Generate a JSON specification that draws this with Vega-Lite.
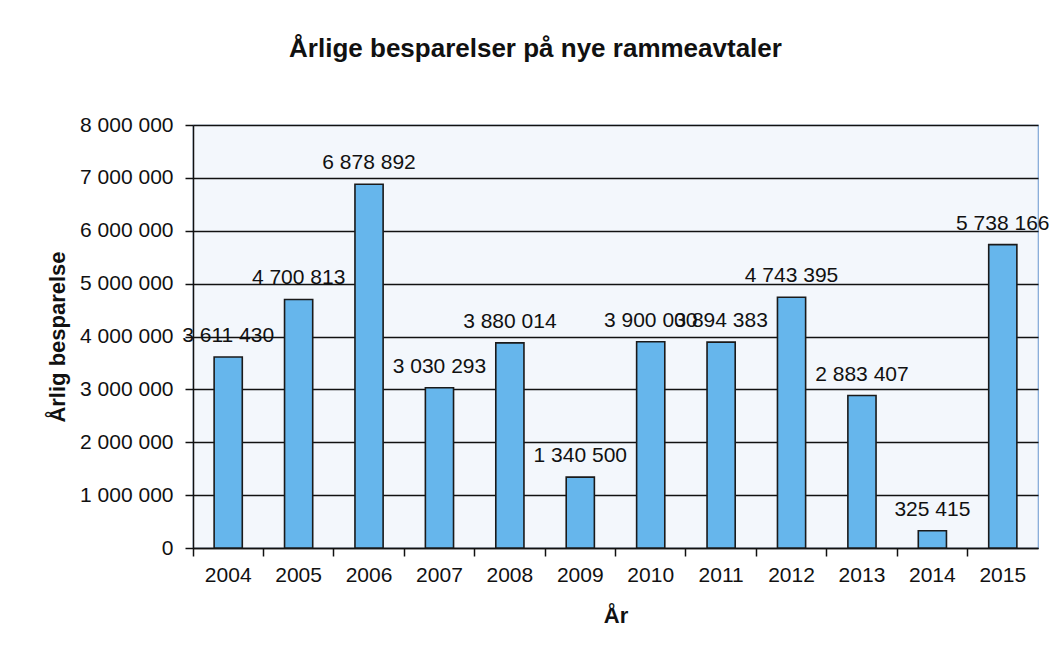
{
  "$schema": "https://vega.github.io/schema/vega-lite/v6.json",
  "autosize": {"type": "none"},
  "width": 845,
  "height": 423,
  "padding": {"left": 193, "top": 125, "right": 11, "bottom": 109},
  "background": "#ffffff",
  "title": {
    "text": "Årlige besparelser på nye rammeavtaler",
    "anchor": "middle",
    "frame": "group",
    "dx": -80,
    "offset": 52,
    "font": "Liberation Sans",
    "fontSize": 26,
    "fontWeight": "bold",
    "color": "#111111"
  },
  "data": {
    "values": [
      {"year": "2004", "value": 3611430},
      {"year": "2005", "value": 4700813},
      {"year": "2006", "value": 6878892},
      {"year": "2007", "value": 3030293},
      {"year": "2008", "value": 3880014},
      {"year": "2009", "value": 1340500},
      {"year": "2010", "value": 3900000},
      {"year": "2011", "value": 3894383},
      {"year": "2012", "value": 4743395},
      {"year": "2013", "value": 2883407},
      {"year": "2014", "value": 325415},
      {"year": "2015", "value": 5738166}
    ]
  },
  "encoding": {
    "x": {
      "field": "year",
      "type": "ordinal",
      "scale": {"paddingInner": 0, "paddingOuter": 0},
      "axis": {
        "title": "År",
        "labelAngle": 0,
        "bandPosition": 0,
        "tickSize": 8,
        "labelPadding": 8,
        "titlePadding": 20,
        "domainColor": "#111111",
        "tickColor": "#111111",
        "domainWidth": 1.5,
        "tickWidth": 1.5,
        "labelFont": "Liberation Sans",
        "labelFontSize": 21,
        "labelColor": "#111111",
        "titleFont": "Liberation Sans",
        "titleFontSize": 22,
        "titleFontWeight": "bold",
        "titleColor": "#111111"
      }
    },
    "y": {
      "field": "value",
      "type": "quantitative",
      "scale": {"domain": [0, 8000000], "nice": false},
      "axis": {
        "title": "Årlig besparelse",
        "values": [0, 1000000, 2000000, 3000000, 4000000, 5000000, 6000000, 7000000, 8000000],
        "labelExpr": "format(datum.value, ',.0f')",
        "tickSize": 8,
        "labelPadding": 12,
        "titlePadding": 10,
        "grid": true,
        "gridColor": "#111111",
        "gridWidth": 1.4,
        "gridOpacity": 1,
        "domainColor": "#111111",
        "tickColor": "#111111",
        "domainWidth": 1.5,
        "tickWidth": 1.5,
        "labelFont": "Liberation Sans",
        "labelFontSize": 21,
        "labelColor": "#111111",
        "titleFont": "Liberation Sans",
        "titleFontSize": 22,
        "titleFontWeight": "bold",
        "titleColor": "#111111"
      }
    }
  },
  "layer": [
    {
      "mark": {
        "type": "bar",
        "width": {"band": 0.4},
        "fill": "#66B6EC",
        "stroke": "#1a1a1a",
        "strokeWidth": 1.6
      }
    },
    {
      "mark": {
        "type": "text",
        "baseline": "alphabetic",
        "align": "center",
        "dy": -15,
        "font": "Liberation Sans",
        "fontSize": 21,
        "color": "#111111"
      },
      "encoding": {
        "text": {"field": "value", "type": "quantitative", "format": ","}
      }
    }
  ],
  "config": {
    "locale": {
      "number": {"decimal": ",", "thousands": " ", "grouping": [3], "currency": ["", ""]}
    },
    "view": {"fill": "#F3F7FC", "stroke": "#7FA7D6", "strokeWidth": 1.2}
  }
}
